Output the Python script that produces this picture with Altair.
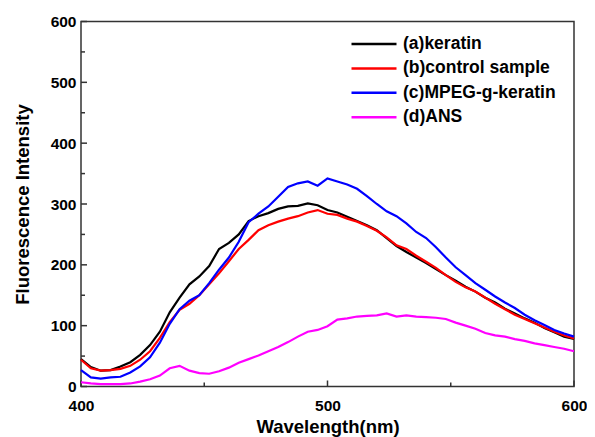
import altair as alt
import pandas as pd

wavelength = list(range(400, 601, 4))

keratin = [45, 32, 26, 27, 33, 40, 52, 68, 90, 122, 146, 168, 181, 198, 226, 236, 250, 272, 280, 285,
           292, 296, 297, 301, 298, 290, 286, 279, 272, 265, 257, 244, 231, 221, 212, 203, 193, 183, 174, 164,
           156, 146, 138, 128, 120, 112, 105, 96, 89, 82, 78]
control = [44, 30, 26, 27, 29, 34, 44, 58, 80, 106, 126, 136, 150, 168, 186, 206, 226, 241, 257, 265,
           271, 276, 280, 286, 290, 284, 282, 276, 271, 264, 256, 245, 232, 226, 215, 205, 195, 183, 172, 163,
           156, 146, 136, 127, 118, 111, 104, 97, 90, 84, 79]
mpeg = [27, 15, 13, 15, 16, 23, 33, 48, 72, 103, 127, 141, 150, 170, 192, 212, 238, 270, 284, 296,
        312, 328, 334, 337, 330, 342, 337, 332, 325, 313, 300, 288, 280, 268, 254, 244, 229, 212, 196, 183,
        170, 159, 148, 138, 129, 118, 109, 101, 93, 87, 82]
ans = [7, 5, 4, 4, 4, 5, 8, 12, 18, 30, 34, 26, 22, 21, 25, 31, 39, 45, 51, 58,
       65, 73, 82, 90, 93, 99, 110, 112, 115, 116, 117, 120, 115, 117, 115, 114, 113, 111, 105, 100,
       95, 88, 84, 82, 78, 75, 71, 68, 65, 62, 58]

series_names = ["(a)keratin", "(b)control sample", "(c)MPEG-g-keratin", "(d)ANS"]
series_colors = ["#000000", "#ff0000", "#0000ff", "#ff00ff"]
series_values = [keratin, control, mpeg, ans]

x_major_ticks = [400, 500, 600]
x_minor_ticks = [450, 550]
y_major_ticks = [0, 100, 200, 300, 400, 500, 600]
y_minor_ticks = [50, 150, 250, 350, 450, 550]

rows = []
for name, vals in zip(series_names, series_values):
    for w, v in zip(wavelength, vals):
        rows.append({"Wavelength": w, "Intensity": v, "Series": name, "order": series_names.index(name)})
df = pd.DataFrame(rows)

W, H = 493, 365
FONT = "Liberation Sans"
TICK_COLOR = "#333333"

xscale = alt.Scale(domain=[400, 600], nice=False)
yscale = alt.Scale(domain=[0, 600], nice=False)

lines = alt.Chart(df).mark_line(strokeWidth=2.2).encode(
    x=alt.X("Wavelength:Q", scale=xscale,
            axis=alt.Axis(title="Wavelength(nm)", values=x_major_ticks, ticks=False, domain=False,
                          grid=False, labelFontSize=15.5, labelFontWeight="bold", labelPadding=12,
                          labelColor="#000", titleFontSize=18.5, titleFontWeight="bold",
                          titlePadding=3, titleColor="#000", labelFlush=False)),
    y=alt.Y("Intensity:Q", scale=yscale,
            axis=alt.Axis(title="Fluorescence Intensity", values=y_major_ticks, ticks=False,
                          domain=False, grid=False, labelFontSize=15.5, labelFontWeight="bold",
                          labelPadding=5, labelColor="#000", titleFontSize=18.5,
                          titleFontWeight="bold", titlePadding=18, titleColor="#000")),
    color=alt.Color("Series:N",
                    scale=alt.Scale(domain=series_names, range=series_colors),
                    legend=alt.Legend(title=None, orient="none", legendX=299, legendY=13.5,
                                      symbolType="M-5,0H1", symbolSize=225, symbolStrokeWidth=2.5,
                                      labelFontSize=17.5, labelFontWeight="bold", labelColor="#000",
                                      labelOffset=5, rowPadding=6.4, padding=0, labelLimit=300)),
    order=alt.Order("order:Q"),
)

xmaj = alt.Chart(pd.DataFrame({"t": x_major_ticks})).mark_rule(color=TICK_COLOR, strokeWidth=1.5).encode(
    x=alt.X("t:Q", scale=xscale), y=alt.value(H), y2=alt.value(H - 6))
xmin = alt.Chart(pd.DataFrame({"t": x_minor_ticks})).mark_rule(color=TICK_COLOR, strokeWidth=1.5).encode(
    x=alt.X("t:Q", scale=xscale), y=alt.value(H), y2=alt.value(H - 4))
ymaj = alt.Chart(pd.DataFrame({"t": y_major_ticks})).mark_rule(color=TICK_COLOR, strokeWidth=1.5).encode(
    y=alt.Y("t:Q", scale=yscale), x=alt.value(0), x2=alt.value(6))
ymin = alt.Chart(pd.DataFrame({"t": y_minor_ticks})).mark_rule(color=TICK_COLOR, strokeWidth=1.5).encode(
    y=alt.Y("t:Q", scale=yscale), x=alt.value(0), x2=alt.value(4))

chart = alt.layer(xmaj, xmin, ymaj, ymin, lines).properties(
    width=W, height=H,
    autosize=alt.AutoSizeParams(type="none"),
    padding={"left": 73, "top": 13.5, "right": 13, "bottom": 50},
).configure(font=FONT).configure_view(stroke=TICK_COLOR, strokeWidth=1.5)

chart.save("out.html", embed_options={"renderer": "svg", "actions": False})
